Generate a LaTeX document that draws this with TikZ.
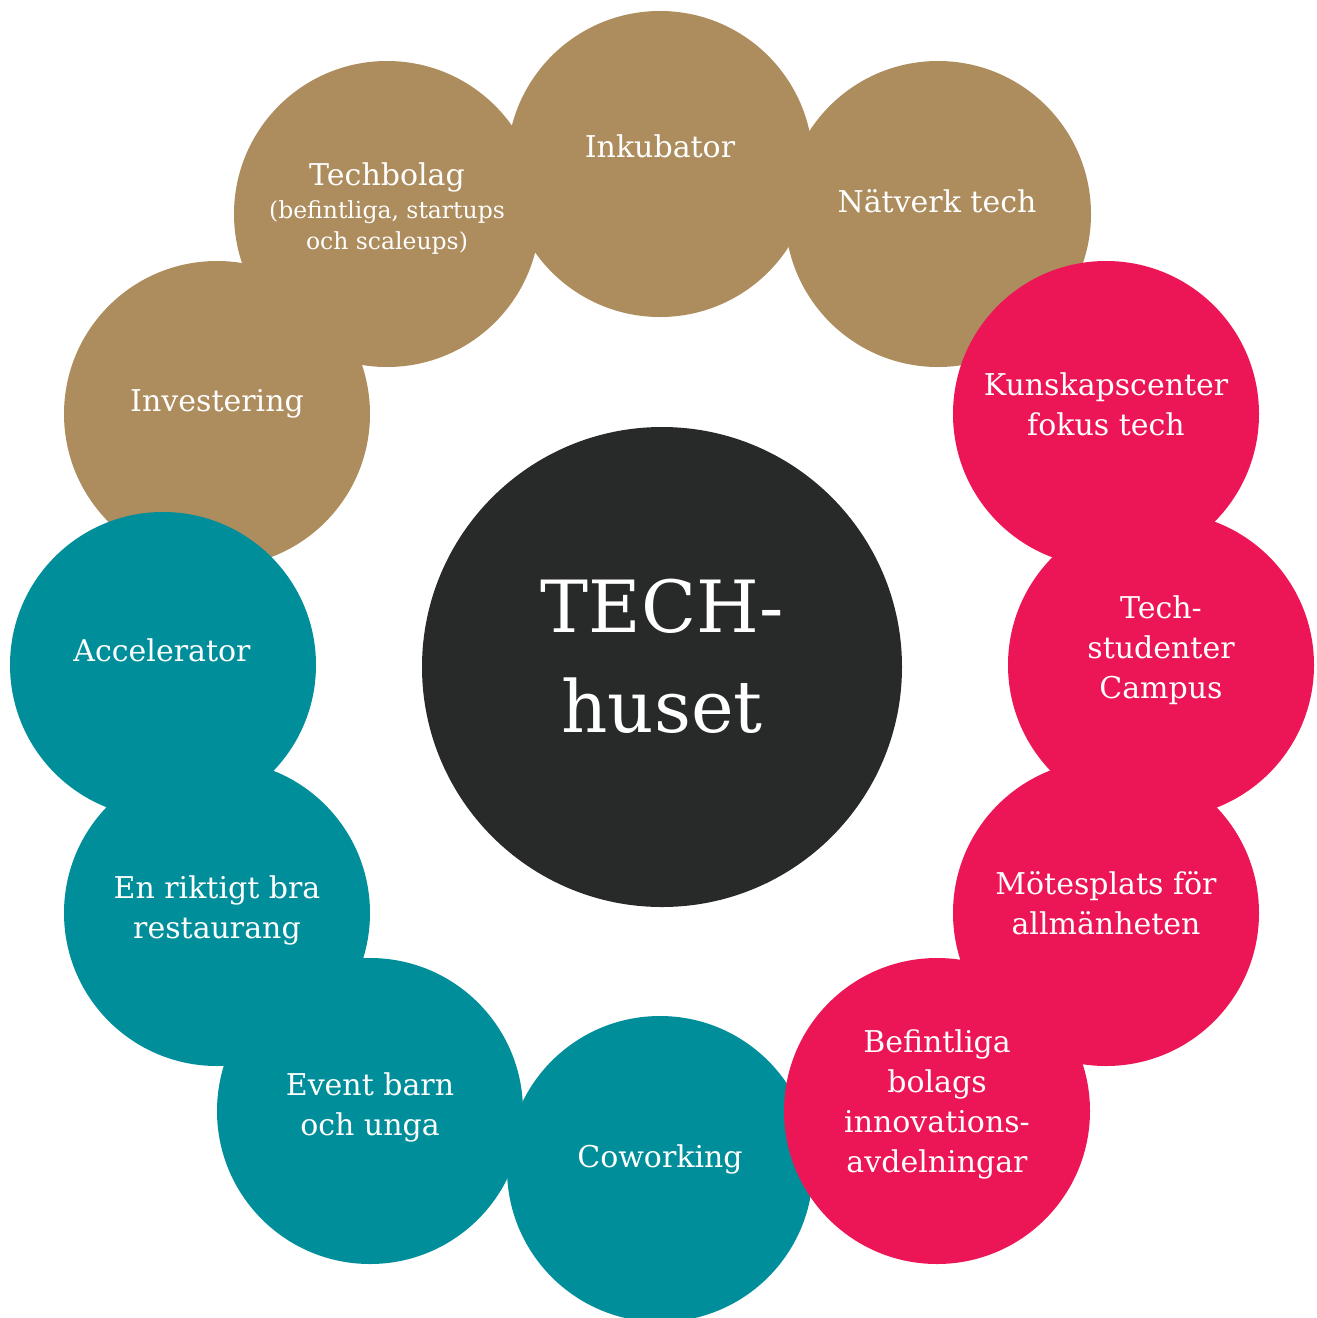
\documentclass[tikz,border=0pt]{standalone}
\usepackage{fontspec}
\setmainfont{DejaVu Serif}
\definecolor{gold}{RGB}{173,140,93}
\definecolor{pinkc}{RGB}{236,21,85}
\definecolor{tealc}{RGB}{0,142,155}
\definecolor{darkc}{RGB}{40,42,41}
\begin{document}
\begin{tikzpicture}[x=1pt,y=-1pt,
  bub/.style={circle,minimum size=306pt,inner sep=0pt,draw=none},
  lab/.style={text=white,align=center,anchor=base,inner sep=0pt,font=\fontsize{30}{40}\selectfont},
  sublab/.style={text=white,align=center,anchor=base,inner sep=0pt,font=\fontsize{23.5}{31}\selectfont}]
\useasboundingbox (0,0) rectangle (1317,1318);
% gold
\node[bub,fill=gold] (inku) at (660,164) {};
\node[bub,fill=gold] (natv) at (938,214) {};
\node[bub,fill=gold] (tbol) at (387,214) {};
\node[bub,fill=gold] (inv) at (217,414) {};
% teal
\node[bub,fill=tealc] (acc) at (163,665) {};
\node[bub,fill=tealc] (rest) at (217,913) {};
\node[bub,fill=tealc] (event) at (370,1111) {};
\node[bub,fill=tealc] (cow) at (660,1169) {};
% pink
\node[bub,fill=pinkc] (kun) at (1106,414) {};
\node[bub,fill=pinkc] (stud) at (1161,665) {};
\node[bub,fill=pinkc] (mot) at (1106,913) {};
\node[bub,fill=pinkc] (bef) at (937,1111) {};
% center
\node[circle,minimum size=480pt,inner sep=0pt,fill=darkc] (hub) at (662,667) {};
% labels (anchor = baseline of last line)
\node[lab] (inkuT) at (660,157) {Inkubator};
\node[lab] (natvT) at (937,212) {Nätverk tech};
\node[lab] (tbolT) at (387,185) {Techbolag};
\node[sublab] (tbolS) at (387,249) {(befintliga, startups\\och scaleups)};
\node[lab] (invT) at (217,411) {Investering};
\node[lab] (accT) at (162,661) {Accelerator};
\node[lab] (restT) at (217,938) {En riktigt bra\\restaurang};
\node[lab] (eventT) at (370,1135) {Event barn\\och unga};
\node[lab] (cowT) at (660,1167) {Coworking};
\node[lab] (kunT) at (1106,435) {Kunskapscenter\\fokus tech};
\node[lab] (studT) at (1161,698) {Tech-\\studenter\\Campus};
\node[lab] (motT) at (1106,934) {Mötesplats för\\allmänheten};
\node[lab] (befT) at (937,1172) {Befintliga\\bolags\\innovations-\\avdelningar};
\node[text=white,align=center,anchor=base,inner sep=0pt,font=\fontsize{72}{100}\selectfont] (hubT) at (662,732) {TECH-\\huset};
\end{tikzpicture}
\end{document}
